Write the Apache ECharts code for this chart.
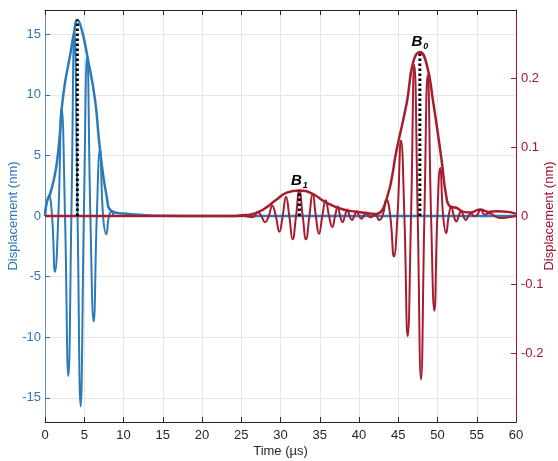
<!DOCTYPE html>
<html>
<head>
<meta charset="utf-8">
<script src="https://cdn.jsdelivr.net/npm/echarts@6/dist/echarts.min.js"></script>
<style>
html,body{margin:0;padding:0;background:#fff;}
#chart{width:558px;height:461px;}
</style>
</head>
<body>
<div id="chart"></div>
<script>
// ---- Data (time in µs) ----
const xTicks = [0, 5, 10, 15, 20, 25, 30, 35, 40, 45, 50, 55, 60];

// Blue wave (left axis, nm): [time, displacement]
const blueSignal = [
  [0, 0], [0.5, 1.7], [0.9, 0], [1.27, -4.6], [1.7, 0], [2.12, 8.9], [2.55, 0],
  [2.97, -13.2], [3.36, 0], [3.75, 15.3], [4.15, 0], [4.54, -15.7], [4.95, 0],
  [5.37, 13.2], [5.78, 0], [6.2, -8.7], [6.6, 0], [7.0, 5.5], [7.4, 0],
  [7.81, -1.5], [8.15, 0], [8.5, 0.4], [8.9, 0], [60, 0]
];
// Blue envelope
const blueEnvelope = [
  [0, 0], [0.21, 1.1], [0.64, 1.8], [1.06, 2.8], [1.49, 4.3], [1.91, 6.9],
  [2.12, 8.8], [2.55, 11.0], [3.18, 13.2], [3.69, 15.1], [4.12, 16.2],
  [4.67, 15.4], [5.39, 13.2], [6.37, 9.6], [7.0, 5.5], [7.86, 1.6],
  [8.5, 0.4], [10.0, 0.2], [12, 0.1], [15, 0.02], [20, 0], [60, 0]
];

// Red wave (right axis, nm)
const redSignal = [
  [0, 0], [25.5, 0], [26.3, -0.002], [26.7, 0], [27.1, 0.006], [27.55, 0],
  [28.03, -0.009], [28.5, 0], [28.95, 0.015], [29.4, 0], [29.85, -0.023],
  [30.28, 0], [30.7, 0.028], [31.12, 0], [31.55, -0.034], [31.98, 0],
  [32.4, 0.037], [32.83, 0], [33.25, -0.034], [33.68, 0], [34.1, 0.0325],
  [34.5, 0], [34.9, -0.026], [35.33, 0], [35.75, 0.023], [36.18, 0],
  [36.6, -0.016], [36.95, 0], [37.3, 0.014], [37.6, 0], [37.9, -0.009],
  [38.2, 0], [38.5, 0.0095], [38.8, 0], [39.1, -0.006], [39.4, 0],
  [39.7, 0.007], [40.0, 0], [40.3, -0.004], [40.6, 0], [40.9, 0.005],
  [41.2, 0], [41.5, -0.002], [41.75, 0], [42.0, 0.002], [42.25, 0],
  [42.55, -0.006], [43.0, 0], [43.5, 0.024], [43.98, 0], [44.45, -0.059],
  [44.9, 0], [45.35, 0.11], [45.78, 0], [46.2, -0.175], [46.63, 0],
  [47.05, 0.22], [47.48, 0], [47.9, -0.238], [48.33, 0], [48.75, 0.205],
  [49.18, 0], [49.6, -0.138], [49.98, 0], [50.35, 0.07], [50.72, 0],
  [51.1, -0.025], [51.42, 0], [51.75, 0.014], [52.08, 0], [52.4, -0.008],
  [52.7, 0], [53.0, 0.008], [53.3, 0], [53.6, -0.006], [53.95, 0],
  [54.3, 0.004], [54.65, 0], [55.0, 0.001], [55.5, 0.009], [56.0, 0.002],
  [56.6, 0.004], [57.3, 0.0], [58.0, -0.003], [59.0, -0.002], [60, 0]
];
// Red envelope
const redEnvelope = [
  [0, 0], [24, 0], [25, 0.001], [26.1, 0.002], [27.8, 0.0095], [29.5, 0.024],
  [30.8, 0.034], [32.4, 0.037], [33.97, 0.033], [35.9, 0.019], [38.0, 0.0095],
  [40.1, 0.0056], [41.4, 0.0037], [42.1, 0.003], [43.5, 0.024], [44.8, 0.097],
  [46.1, 0.166], [46.9, 0.224], [47.75, 0.239], [48.6, 0.222], [49.45, 0.166],
  [50.5, 0.083], [51.1, 0.03], [51.6, 0.014], [52.4, 0.012], [53.3, 0.006],
  [54.2, 0.005], [55.4, 0.0095], [56.5, 0.006], [57.5, 0.007], [59, 0.006],
  [60, 0.003]
];

// Peak markers (dotted lines)
const bluePeak = [4.12, 16.2];
const b1Peak = [32.4, 0.037];
const b0Peak = [47.75, 0.239];
const peakLabels = ['B', '1', '0'];

// ---- Styling ----
const FONT = 'Liberation Sans, Arial, Helvetica, sans-serif';
const BLUE = '#2B7BBA';
const BLUE_AX = '#2C77BC';
const RED = '#A51D2F';
const RED_AX = '#A2142F';
const DARK = '#262626';
const GRID = '#E6E6E6';

const chart = echarts.init(document.getElementById('chart'), null, {renderer: 'canvas'});

function dotted(pt, axisIdx, sub) {
  const bottom = {value: [pt[0], 0], symbol: 'none'};
  const top = {value: pt, symbol: 'none'};
  if (sub !== null) {
    top.symbol = 'circle';
    top.symbolSize = 1;
    top.itemStyle = {color: 'rgba(0,0,0,0)'};
    top.label = {
      show: true, position: 'top', distance: 2,
      formatter: '{b|' + peakLabels[0] + '}{s|' + sub + '}',
      rich: {
        b: {fontSize: 15, fontWeight: 'bold', fontStyle: 'italic', color: '#000', fontFamily: FONT},
        s: {fontSize: 9, fontWeight: 'bold', fontStyle: 'italic', color: '#000', fontFamily: FONT,
            lineHeight: 9, padding: [9, 0, 0, 1]}
      }
    };
  }
  return {
    type: 'line', yAxisIndex: axisIdx, symbol: 'none', showSymbol: true, silent: true,
    data: [bottom, top],
    lineStyle: {color: '#000', width: 3, type: [2.5, 2.5]},
    z: 5
  };
}

const option = {
  animation: false,
  backgroundColor: '#fff',
  textStyle: {fontFamily: FONT},
  grid: {left: 45, right: 42, top: 10, bottom: 39, containLabel: false, outerBoundsMode: 'none'},
  xAxis: [
    {
      type: 'value', min: xTicks[0], max: xTicks[xTicks.length - 1], interval: 5,
      position: 'bottom',
      axisLine: {show: true, onZero: false, lineStyle: {color: DARK, width: 1}},
      axisTick: {show: true, inside: true, length: 5, lineStyle: {color: DARK}},
      axisLabel: {color: DARK, fontSize: 13, margin: 7, fontFamily: FONT},
      splitLine: {show: true, lineStyle: {color: GRID, width: 1}},
      name: 'Time (µs)', nameLocation: 'middle', nameGap: 23, nameMoveOverlap: false,
      nameTextStyle: {color: DARK, fontSize: 13, fontFamily: FONT}
    },
    {
      type: 'value', min: xTicks[0], max: xTicks[xTicks.length - 1], interval: 5,
      position: 'top',
      axisLine: {show: true, onZero: false, lineStyle: {color: DARK, width: 1}},
      axisTick: {show: true, inside: true, length: 5, lineStyle: {color: DARK}},
      axisLabel: {show: false},
      splitLine: {show: false}
    }
  ],
  yAxis: [
    {
      type: 'value', min: -17, max: 17, splitNumber: 7, minInterval: 5, maxInterval: 5,
      position: 'left',
      axisLine: {show: true, onZero: false, lineStyle: {color: '#5A92C9', width: 1}},
      axisTick: {show: true, inside: true, length: 5, lineStyle: {color: BLUE_AX}},
      axisLabel: {color: BLUE_AX, fontSize: 13, margin: 4, fontFamily: FONT,
                  showMinLabel: false, showMaxLabel: false,
                  formatter: v => (Math.abs(v) === 17 ? '' : String(v))},
      splitLine: {show: true, lineStyle: {color: GRID, width: 1}},
      name: 'Displacement (nm)', nameLocation: 'middle', nameGap: 25, nameMoveOverlap: false,
      nameTextStyle: {color: BLUE_AX, fontSize: 13, fontFamily: FONT}
    },
    {
      type: 'value', min: -0.3, max: 0.3, interval: 0.1,
      position: 'right',
      axisLine: {show: true, onZero: false, lineStyle: {color: RED_AX, width: 1}},
      axisTick: {show: true, inside: true, length: 5, lineStyle: {color: RED_AX}},
      axisLabel: {color: RED_AX, fontSize: 13, margin: 5, fontFamily: FONT,
                  showMinLabel: false, showMaxLabel: false,
                  formatter: v => (Math.abs(Math.abs(v) - 0.3) < 1e-9 ? '' : String(Math.round(v * 10) / 10))},
      splitLine: {show: false},
      name: 'Displacement (nm)', nameLocation: 'middle', nameGap: 27, nameMoveOverlap: false,
      nameTextStyle: {color: RED_AX, fontSize: 13, fontFamily: FONT}
    }
  ],
  series: [
    {type: 'line', yAxisIndex: 0, data: blueSignal, smooth: 0.5, symbol: 'none', silent: true,
     lineStyle: {color: BLUE, width: 2}, z: 2},
    {type: 'line', yAxisIndex: 0, data: blueEnvelope, smooth: 0.5, symbol: 'none', silent: true,
     lineStyle: {color: BLUE, width: 2.5}, z: 2},
    {type: 'line', yAxisIndex: 1, data: redSignal, smooth: 0.5, symbol: 'none', silent: true,
     lineStyle: {color: RED, width: 2}, z: 3},
    {type: 'line', yAxisIndex: 1, data: redEnvelope, smooth: 0.5, symbol: 'none', silent: true,
     lineStyle: {color: RED, width: 2.5}, z: 3},
    dotted(bluePeak, 0, null),
    dotted(b1Peak, 1, peakLabels[1]),
    dotted(b0Peak, 1, peakLabels[2])
  ]
};
chart.setOption(option);
</script>
</body>
</html>
